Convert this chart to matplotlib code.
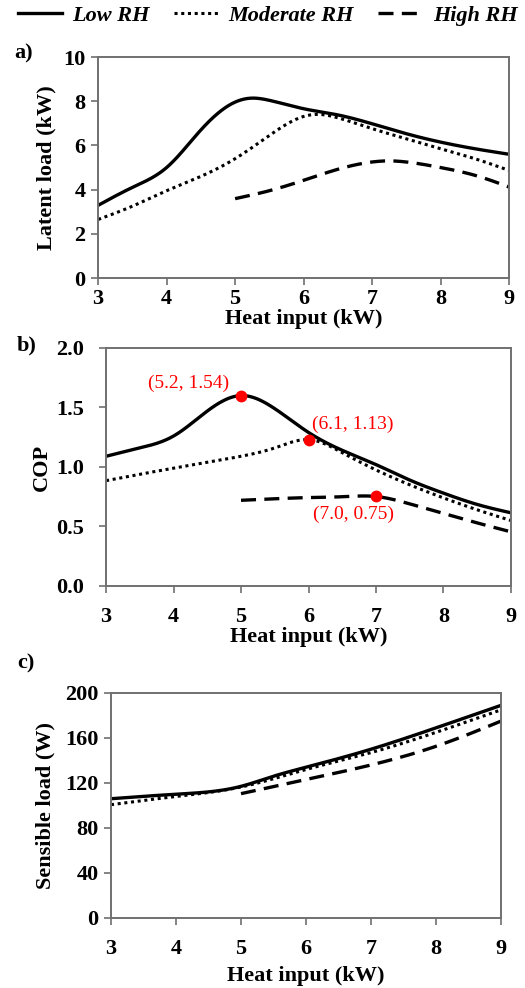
import matplotlib
matplotlib.use("Agg")
import matplotlib.pyplot as plt
from matplotlib.lines import Line2D
import numpy as np

# ---- data ----
x_low_a = [3, 3.5, 4, 4.5, 5, 5.25, 5.5, 6, 6.5, 7, 7.5, 8, 8.5, 9]
latent_low = [3.29, 4.1, 5.0, 6.7, 7.96, 8.14, 8.04, 7.66, 7.38, 6.98, 6.53, 6.15, 5.85, 5.6]
x_mod_a = [3, 3.5, 4, 4.5, 5, 5.5, 6, 6.25, 6.5, 7, 7.5, 8, 8.5, 9]
latent_mod = [2.65, 3.25, 3.95, 4.6, 5.4, 6.45, 7.31, 7.4, 7.25, 6.76, 6.3, 5.85, 5.4, 4.87]
x_high_a = [5, 5.5, 6, 6.5, 7, 7.25, 7.5, 8, 8.5, 9]
latent_high = [3.59, 3.95, 4.42, 4.92, 5.25, 5.3, 5.25, 5.0, 4.65, 4.12]

x_low_b = [3, 3.5, 4, 4.5, 5, 5.5, 6, 6.5, 7, 7.5, 8, 8.5, 9]
cop_low = [1.09, 1.16, 1.26, 1.47, 1.60, 1.49, 1.29, 1.14, 1.02, 0.89, 0.78, 0.685, 0.615]
x_mod_b = [3, 4, 5, 5.5, 6, 6.5, 7, 7.5, 8, 8.5, 9]
cop_mod = [0.885, 0.99, 1.09, 1.16, 1.23, 1.12, 0.975, 0.85, 0.74, 0.64, 0.55]
x_high_b = [5, 5.5, 6, 6.5, 7, 7.5, 8, 8.5, 9]
cop_high = [0.72, 0.733, 0.743, 0.75, 0.752, 0.69, 0.61, 0.53, 0.455]

peak_x = [5, 6, 7]
peak_y = [1.60, 1.23, 0.755]
peak_labels = ["(5.2, 1.54)", "(6.1, 1.13)", "(7.0, 0.75)"]
peak_label_pos = [(4.22, 1.70), (6.66, 1.36), (6.66, 0.60)]

x_low_c = [3, 4, 5, 5.5, 6, 7, 8, 9]
sens_low = [106, 110, 117, 126, 134, 150, 169, 189]
x_mod_c = [3, 4, 5, 6, 7, 8, 9]
sens_mod = [100.7, 108, 116.4, 132, 147, 165, 185]
x_high_c = [5, 6, 7, 8, 9]
sens_high = [110.5, 123, 136, 152.6, 175]

series_names = ["Low RH", "Moderate RH", "High RH"]
xticks = [3, 4, 5, 6, 7, 8, 9]

# ---- style ----
plt.rcParams['font.family'] = ['Liberation Serif', 'DejaVu Serif']
plt.rcParams['font.weight'] = 'bold'
styles = [dict(ls='-', lw=2.4), dict(ls=(0, (1, 1.2)), lw=2.2), dict(ls=(0, (4.5, 2.5)), lw=2.4)]
FS = 16
spine_col = '#707070'

fig = plt.figure(figsize=(5.25, 9.88), dpi=100)

def smooth(x, y):
    """Natural cubic spline through the data points."""
    x = np.asarray(x, float); y = np.asarray(y, float)
    n = len(x)
    h = np.diff(x)
    A = np.zeros((n, n)); b = np.zeros(n)
    A[0, 0] = 1; A[-1, -1] = 1
    for i in range(1, n - 1):
        A[i, i-1] = h[i-1]; A[i, i] = 2*(h[i-1] + h[i]); A[i, i+1] = h[i]
        b[i] = 3*((y[i+1]-y[i])/h[i] - (y[i]-y[i-1])/h[i-1])
    c = np.linalg.solve(A, b)
    bb = (y[1:]-y[:-1])/h - h*(2*c[:-1] + c[1:])/3
    d = (c[1:] - c[:-1])/(3*h)
    xs = np.linspace(x[0], x[-1], 400)
    idx = np.clip(np.searchsorted(x, xs) - 1, 0, n - 2)
    t = xs - x[idx]
    ys = y[idx] + bb[idx]*t + c[idx]*t**2 + d[idx]*t**3
    return xs, ys

def style_ax(ax, ylim, yticks, ylabel, yfmt, xpad, ypad, xlpad, ylpad):
    ax.set_xlim(3, 9)
    ax.set_ylim(*ylim)
    ax.set_xticks(xticks)
    ax.set_yticks(yticks)
    ax.set_yticklabels([yfmt.format(v) for v in yticks])
    ax.tick_params(direction='out', length=5, width=1.2, color=spine_col, labelsize=FS)
    ax.tick_params(axis='x', pad=xpad)
    ax.tick_params(axis='y', pad=ypad)
    for lab in ax.get_xticklabels() + ax.get_yticklabels():
        lab.set_fontweight('bold')
    for s in ax.spines.values():
        s.set_color(spine_col); s.set_linewidth(1.4)
    ax.set_ylabel(ylabel, fontsize=FS, fontweight='bold', labelpad=ylpad)
    ax.set_xlabel("Heat input (kW)", fontsize=FS, fontweight='bold', labelpad=xlpad)

def plot_three(ax, xs_list, ys_list):
    for (x, y), st in zip(zip(xs_list, ys_list), styles):
        sx, sy = smooth(x, y)
        ax.plot(sx, sy, color='black', **st)

# panel a
axa = fig.add_axes([0.187, 0.7186, 0.7825, 0.2237])
plot_three(axa, [x_low_a, x_mod_a, x_high_a], [latent_low, latent_mod, latent_high])
style_ax(axa, (0, 10), [0, 2, 4, 6, 8, 10], "Latent load (kW)", "{:g}", 3, 4, 0, 5)

# panel b
axb = fig.add_axes([0.202, 0.4069, 0.7713, 0.2409])
plot_three(axb, [x_low_b, x_mod_b, x_high_b], [cop_low, cop_mod, cop_high])
axb.plot(peak_x, peak_y, 'o', color='red', ms=7.5, zorder=5)
for lab, (lx, ly) in zip(peak_labels, peak_label_pos):
    axb.text(lx, ly, lab, color='red', fontsize=14, fontweight='normal', ha='center', va='center')
style_ax(axb, (0, 2), [0, 0.5, 1.0, 1.5, 2.0], "COP", "{:.1f}", 10, 11, 0, 3)

# panel c
axc = fig.add_axes([0.2114, 0.0709, 0.7429, 0.2277])
plot_three(axc, [x_low_c, x_mod_c, x_high_c], [sens_low, sens_mod, sens_high])
style_ax(axc, (0, 200), [0, 40, 80, 120, 160, 200], "Sensible load (W)", "{:g}", 10, 4, 5, 7)

# panel labels
fig.text(0.028, 1 - 53/988, "a)", fontsize=FS, fontweight='bold', va='center')
fig.text(0.032, 1 - 345/988, "b)", fontsize=FS, fontweight='bold', va='center')
fig.text(0.032, 1 - 663/988, "c)", fontsize=FS, fontweight='bold', va='center')

# legend
handles = [Line2D([], [], color='black', **st) for st in styles]
leg = fig.legend(handles, series_names, loc='center', bbox_to_anchor=(0.51, 1 - 16/988),
                 ncol=3, frameon=False, handlelength=2.0, columnspacing=1.1, handletextpad=0.45,
                 prop=dict(family='Liberation Serif', weight='bold', style='italic', size=16))

fig.savefig("out.png", dpi=100)
